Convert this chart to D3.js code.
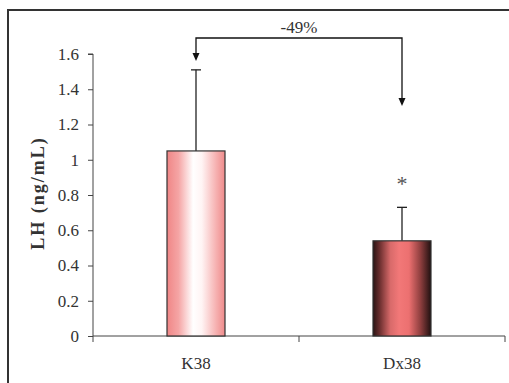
<!DOCTYPE html>
<html><head><meta charset="utf-8">
<script src="https://cdn.jsdelivr.net/npm/d3@7"></script>
<style>body{margin:0;background:#fff}svg{display:block}text{font-family:"Liberation Serif","DejaVu Serif",serif;fill:#333}</style>
</head><body>
<script>
const categories = ["K38", "Dx38"];
const means = [1.05, 0.54];
const errors = [0.46, 0.19];
const yTicks = [0, 0.2, 0.4, 0.6, 0.8, 1, 1.2, 1.4, 1.6];
const annotationText = "-49%";
const significance = ["", "*"];

const W = 509, H = 383;
const svg = d3.select("body").append("svg").attr("width", W).attr("height", H);

const defs = svg.append("defs");
const g1 = defs.append("linearGradient").attr("id", "gK").attr("x1", "0%").attr("x2", "100%");
[["0%", "#f08686"], ["20%", "#f5a5a5"], ["45%", "#ffffff"], ["60%", "#fff4f4"], ["85%", "#f6b0b0"], ["100%", "#ee8a8a"]]
  .forEach(([o, c]) => g1.append("stop").attr("offset", o).attr("stop-color", c));
const g2 = defs.append("linearGradient").attr("id", "gD").attr("x1", "0%").attr("x2", "100%");
[["0%", "#2a1414"], ["12%", "#6e3030"], ["30%", "#d86a6a"], ["45%", "#f27878"], ["62%", "#ec7070"], ["82%", "#8e3e3e"], ["100%", "#201010"]]
  .forEach(([o, c]) => g2.append("stop").attr("offset", o).attr("stop-color", c));
const fills = ["url(#gK)", "url(#gD)"];

// frame
svg.append("path").attr("d", `M8,${H + 2}V10H${W + 2}`).attr("fill", "none").attr("stroke", "#333").attr("stroke-width", 2);

const x = d3.scaleBand().domain(categories).range([93, 505]).paddingInner(0).paddingOuter(0);
const y = d3.scaleLinear().domain([0, 1.6]).range([336, 54]);
const bw = 58;

// y axis
const ya = svg.append("g").attr("transform", "translate(93,0)")
  .call(d3.axisLeft(y).tickValues(yTicks).tickFormat(d => d3.format("")(+d.toFixed(1))).tickSize(5).tickPadding(9));
ya.select(".domain").attr("stroke", "#444").attr("d", "M-5,54H0V336");
ya.selectAll(".tick line").attr("stroke", "#444");
ya.selectAll(".tick text").style("font-size", "17px").attr("fill", "#333").style("font-family", "Liberation Serif, serif");

// x axis
const xa = svg.append("g").attr("transform", "translate(0,336)");
xa.append("line").attr("x1", 93).attr("x2", 505).attr("stroke", "#444");
const bounds = [x(categories[0]), x(categories[1]), x(categories[1]) + x.bandwidth()];
bounds.forEach(b => xa.append("line").attr("x1", b).attr("x2", b).attr("y1", 0).attr("y2", 6).attr("stroke", "#444"));
categories.forEach(c => xa.append("text").attr("x", x(c) + x.bandwidth() / 2).attr("y", 33)
  .attr("text-anchor", "middle").style("font-size", "17px").text(c));

// bars
categories.forEach((c, i) => {
  const cx = x(c) + x.bandwidth() / 2;
  svg.append("line").attr("x1", cx).attr("x2", cx).attr("y1", y(means[i])).attr("y2", y(means[i] + errors[i])).attr("stroke", "#222").attr("stroke-width", 1.3);
  svg.append("line").attr("x1", cx - 5).attr("x2", cx + 5).attr("y1", y(means[i] + errors[i])).attr("y2", y(means[i] + errors[i])).attr("stroke", "#222").attr("stroke-width", 1.3);
  svg.append("rect").attr("x", cx - bw / 2).attr("y", y(means[i])).attr("width", bw).attr("height", y(0) - y(means[i]))
    .attr("fill", fills[i]).attr("stroke", "#333").attr("stroke-width", 1.2);
  if (significance[i]) svg.append("text").attr("x", cx).attr("y", y(means[i] + errors[i]) - 16).attr("text-anchor", "middle")
    .style("font-size", "22px").style("fill", "#555").text(significance[i]);
});

// annotation bracket
const cx0 = x(categories[0]) + x.bandwidth() / 2, cx1 = x(categories[1]) + x.bandwidth() / 2;
const by = 38;
const tip0 = 61, tip1 = 106;
svg.append("path").attr("d", `M${cx0},${tip0 - 6}V${by}H${cx1}V${tip1 - 6}`).attr("fill", "none").attr("stroke", "#111").attr("stroke-width", 1.3);
[[cx0, tip0], [cx1, tip1]].forEach(([ax, ay]) => svg.append("path").attr("d", `M${ax - 3.5},${ay - 8}L${ax + 3.5},${ay - 8}L${ax},${ay}Z`).attr("fill", "#111"));
svg.append("text").attr("x", (cx0 + cx1) / 2).attr("y", by - 5).attr("text-anchor", "middle").style("font-size", "17px").text(annotationText);

// y label
svg.append("text").attr("transform", "translate(44,193) rotate(-90)").attr("text-anchor", "middle")
  .style("font-size", "18px").style("font-weight", "bold").style("letter-spacing", "2px").text("LH (ng/mL)");
</script>
</body></html>
